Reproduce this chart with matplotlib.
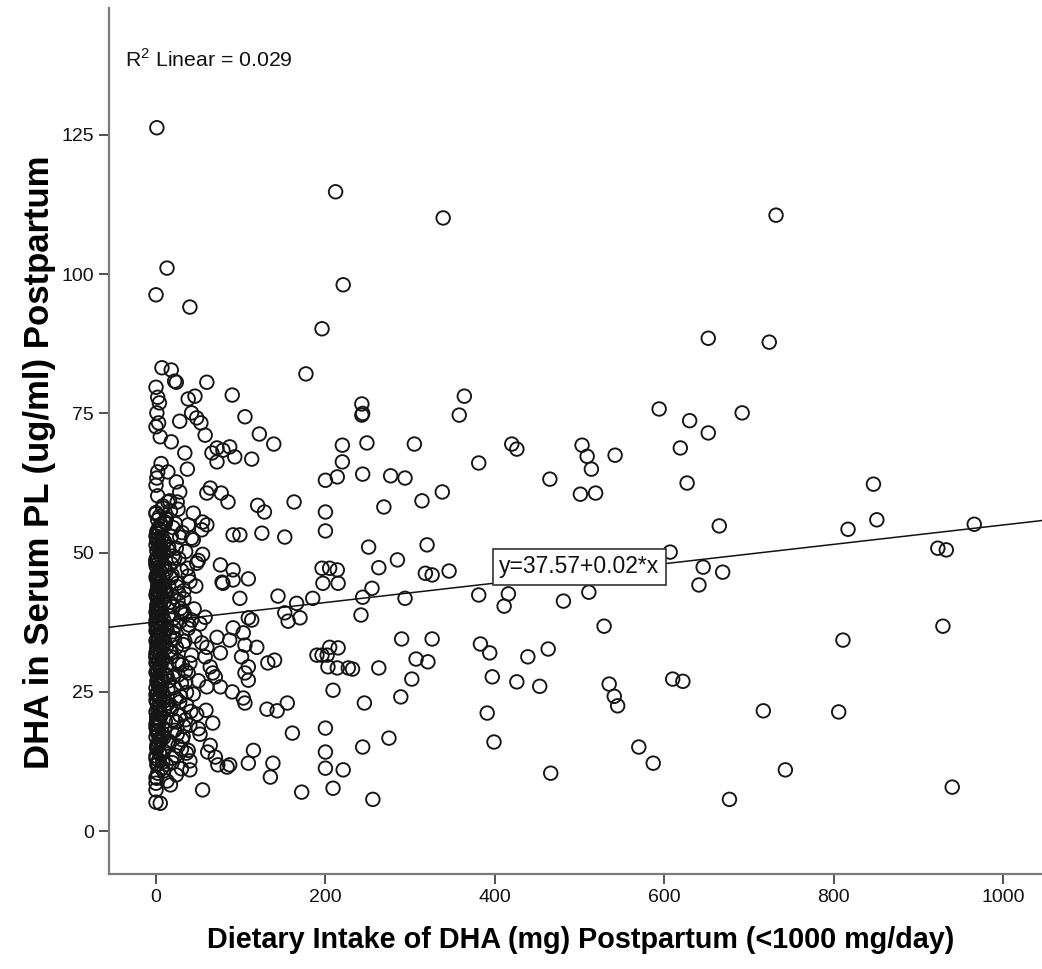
import matplotlib
matplotlib.use("Agg")
import matplotlib.pyplot as plt

plt.rcParams['font.family'] = ['Liberation Sans', 'DejaVu Sans']

# ---- sparse / readable points (Dietary DHA mg, Serum DHA ug/ml) ----
sparse_x = [1, 212, 339, 13, 221, 0, 40, 196, 177, 7,
            18, 22, 24, 60, 38, 46, 90, 42, 48, 28,
            53, 58, 105, 122, 139, 18, 34, 37, 66, 72,
            79, 87, 93, 113, 72, 220, 220, 214, 200, 14,
            24, 28, 64, 60, 77, 85, 14, 25, 44, 120,
            128, 163, 200, 200, 125, 152, 91, 99, 55, 54,
            60, 42, 55, 48, 76, 91, 78, 91, 109, 99,
            144, 166, 185, 196, 205, 214, 197, 215, 152, 156,
            170, 58, 42, 109, 113, 91, 103, 72, 87, 119,
            105, 60, 76, 58, 101, 132, 140, 190, 196, 202,
            64, 109, 67, 105, 40, 38, 60, 76, 90, 103,
            105, 109, 70, 131, 143, 155, 161, 200, 200, 200,
            115, 109, 138, 135, 172, 55, 59, 67, 52, 64,
            61, 70, 73, 84, 87, 38, 40, 17, 0, 5,
            0, 1, 209, 221, 209, 205, 215, 214, 203, 227,
            79]
sparse_y = [126.3, 114.8, 110.1, 101.1, 98.1, 96.3, 94.1, 90.2, 82.1, 83.2,
            82.8, 80.8, 80.6, 80.6, 77.6, 78.1, 78.3, 75.1, 74.2, 73.6,
            73.3, 71.1, 74.4, 71.3, 69.5, 69.9, 67.9, 65.0, 67.9, 66.3,
            68.4, 69.0, 67.2, 66.8, 68.8, 69.3, 66.3, 63.6, 63.0, 64.5,
            62.7, 60.9, 61.6, 60.7, 60.7, 59.1, 59.1, 59.1, 57.1, 58.5,
            57.3, 59.1, 57.3, 53.9, 53.5, 52.8, 53.2, 53.2, 55.5, 54.1,
            55.0, 52.6, 49.7, 48.1, 47.8, 46.9, 44.7, 45.1, 45.3, 41.8,
            42.2, 40.9, 41.8, 47.2, 47.2, 46.9, 44.5, 44.5, 39.2, 37.7,
            38.3, 38.4, 37.9, 38.3, 37.9, 36.5, 35.6, 34.8, 34.3, 33.0,
            33.4, 33.0, 32.0, 31.3, 31.3, 30.2, 30.7, 31.6, 31.6, 31.6,
            29.5, 29.5, 28.4, 28.4, 30.2, 28.4, 25.9, 25.9, 25.0, 23.9,
            23.0, 27.1, 27.7, 21.9, 21.6, 23.0, 17.6, 18.5, 14.2, 11.3,
            14.5, 12.2, 12.2, 9.7, 7.0, 7.4, 21.7, 19.4, 17.4, 15.4,
            14.2, 13.3, 11.9, 11.5, 11.9, 14.5, 11.0, 8.3, 5.2, 5.0,
            7.4, 9.5, 7.7, 11.0, 25.3, 33.0, 32.9, 29.3, 29.5, 29.3,
            44.5]

mid_x = [243, 244, 243, 364, 358, 249, 305, 244, 277, 294,
         269, 314, 338, 381, 420, 426, 465, 503, 509, 514,
         501, 519, 542, 594, 630, 619, 627, 251, 320, 285,
         263, 318, 326, 346, 607, 255, 244, 294, 242, 381,
         416, 411, 481, 511, 529, 232, 263, 290, 326, 307,
         321, 302, 289, 246, 383, 394, 439, 463, 397, 426,
         453, 535, 541, 545, 391, 399, 466, 570, 587, 610,
         622, 275, 244, 256]
mid_y = [76.7, 75.0, 74.7, 78.1, 74.7, 69.7, 69.5, 64.1, 63.8, 63.4,
         58.2, 59.3, 60.9, 66.1, 69.5, 68.6, 63.2, 69.3, 67.3, 65.0,
         60.5, 60.7, 67.5, 75.8, 73.7, 68.8, 62.5, 51.0, 51.4, 48.7,
         47.3, 46.3, 46.0, 46.7, 50.1, 43.6, 42.0, 41.8, 38.8, 42.4,
         42.6, 40.4, 41.3, 42.9, 36.8, 29.1, 29.3, 34.5, 34.5, 30.9,
         30.4, 27.3, 24.1, 23.0, 33.6, 32.0, 31.3, 32.7, 27.7, 26.8,
         26.0, 26.4, 24.2, 22.5, 21.2, 16.0, 10.4, 15.1, 12.2, 27.3,
         26.9, 16.7, 15.1, 5.7]

high_x = [652, 724, 652, 692, 665, 847, 851, 817, 966, 923,
          933, 646, 669, 641, 732, 929, 811, 717, 806, 743,
          677, 940]
high_y = [88.5, 87.8, 71.5, 75.1, 54.8, 62.3, 55.9, 54.2, 55.1, 50.8,
          50.5, 47.4, 46.5, 44.2, 110.6, 36.8, 34.3, 21.6, 21.4, 11.0,
          5.7, 7.9]

# ---- dense column at (near) zero intake ----
col_x = [0, 2, 1, 3, 0, 4, 1, 2, 5, 0,
         3, 1, 0, 2, 4, 1, 6, 0, 2, 3,
         1, 0, 4, 2, 5, 0, 3, 1, 2, 6,
         0, 2, 4, 1, 3, 0, 5, 2, 1, 4,
         2, 0, 3, 5, 1, 2, 0, 4, 3, 1,
         0, 4, 1, 2, 6, 3, 0, 1, 5, 2,
         3, 1, 0, 2, 4, 1, 3, 0, 2, 5,
         1, 3, 0, 4, 2, 0, 1, 3, 6, 2,
         4, 0, 2, 1, 3, 5, 0, 2, 4, 1,
         0, 3, 1, 2, 0, 6, 4, 1, 3, 0,
         2, 5, 3, 0, 1, 4, 2, 0, 3, 1,
         0, 2, 4, 1, 3, 0, 5, 2, 1, 0]
col_y = [8.6, 10.4, 11.9, 12.7, 13.5, 14.1, 14.8, 15.6, 16.2, 16.9,
         17.3, 17.8, 18.6, 19.1, 19.5, 20.3, 20.8, 21.4, 21.9, 22.6,
         23.1, 23.5, 24.2, 24.8, 25.3, 25.7, 26.4, 26.9, 27.2, 27.8,
         28.5, 28.9, 29.6, 30.1, 30.4, 31.2, 31.7, 32.3, 32.6, 33.4,
         33.9, 34.2, 34.9, 35.5, 35.8, 36.6, 37.1, 37.4, 38.2, 38.6,
         39.3, 39.7, 40.1, 40.8, 41.5, 41.9, 42.4, 43.1, 43.6, 44.0,
         44.7, 45.2, 45.6, 46.3, 46.9, 47.3, 48.1, 48.5, 49.2, 49.6,
         50.3, 50.8, 51.4, 51.9, 52.5, 53.0, 53.8, 54.4, 55.1, 55.9,
         56.5, 57.2, 12.1, 15.1, 18.0, 21.1, 24.5, 27.5, 30.7, 33.1,
         36.0, 39.0, 42.0, 45.0, 47.8, 51.0, 54.0, 20.5, 26.1, 31.5,
         35.2, 40.4, 44.4, 48.8, 52.2, 22.2, 29.0, 37.8, 43.3, 46.1,
         79.7, 77.9, 76.9, 75.1, 73.3, 72.6, 70.8, 64.5, 63.4, 62.1]

col2_x = [7, 0, 9, 3, 8, 1, 10, 5, 7, 2,
          11, 4, 8, 0, 9, 6, 12, 3, 7, 1,
          10, 5, 8, 2, 11, 0, 9, 4, 7, 6,
          12, 8, 1, 10, 3, 9, 5, 11, 0, 7,
          2, 10, 6, 8, 4, 12, 1, 9, 3, 11,
          5, 7, 0, 10, 2, 8, 6, 12, 4, 9,
          1, 11, 3, 7, 5, 10, 0, 8, 2, 6,
          9, 4, 12, 1, 10, 3, 8, 6, 11, 0]
col2_y = [11.3, 13.0, 14.4, 16.0, 17.5, 19.8, 21.7, 23.9, 25.0, 26.7,
          28.2, 29.3, 31.0, 32.0, 33.7, 35.0, 36.3, 37.6, 38.9, 40.0,
          41.2, 42.8, 44.2, 45.9, 47.0, 48.3, 49.9, 51.2, 52.8, 54.7,
          56.2, 12.4, 15.4, 18.3, 20.1, 23.3, 26.0, 28.0, 30.2, 32.9,
          34.6, 36.9, 39.6, 41.8, 43.8, 46.6, 49.0, 51.7, 53.4, 55.5,
          13.8, 17.0, 19.2, 22.0, 24.7, 27.0, 29.9, 33.0, 35.9, 38.0,
          40.6, 43.0, 45.3, 47.5, 50.0, 52.0, 57.0, 58.4, 60.2, 66.0,
          10.8, 16.6, 22.9, 28.7, 34.0, 39.9, 45.7, 50.6, 55.3, 9.6]

# ---- semi-dense band of low intakes ----
band_x = [12, 20, 28, 15, 35, 22, 10, 30, 18, 40,
          25, 12, 33, 20, 45, 15, 28, 38, 10, 22,
          32, 16, 42, 26, 12, 35, 20, 30, 14, 44,
          24, 36, 18, 28, 11, 40, 22, 32, 15, 26,
          36, 19, 12, 30, 24, 13, 48, 50, 46, 47,
          8, 16, 26, 38, 44, 50, 9, 52, 8, 54,
          9, 50, 9, 40, 20, 30, 18, 35, 14, 27]
band_y = [56.0, 54.5, 52.8, 51.0, 50.2, 49.0, 47.5, 46.8, 45.5, 44.8,
          43.9, 42.6, 41.7, 40.3, 39.9, 38.7, 37.6, 36.4, 35.5, 34.6,
          33.5, 32.4, 31.6, 30.5, 29.7, 28.8, 27.6, 26.5, 25.4, 24.6,
          23.8, 22.7, 21.9, 20.8, 19.7, 19.0, 18.1, 17.0, 16.2, 15.3,
          14.0, 13.1, 12.0, 11.2, 10.1, 9.0, 21.0, 27.0, 35.0, 44.0,
          58.0, 59.3, 57.8, 55.0, 52.3, 48.6, 43.5, 37.2, 30.8, 33.8,
          24.0, 18.4, 16.8, 12.6, 35.8, 39.2, 48.0, 20.0, 22.9, 42.7]

band2_x = [17, 23, 31, 14, 27, 37, 19, 25, 33, 16,
           29, 21, 39, 13, 34, 24, 18, 31, 26, 15,
           22, 36, 28, 17, 41, 20, 33, 25, 14, 30,
           23, 19, 35, 27, 16, 32, 21, 38, 24, 18,
           15, 26, 21, 34, 18, 29, 24, 13, 31, 20]
band2_y = [57.5, 55.2, 53.6, 50.5, 48.9, 47.2, 46.0, 44.5, 43.2, 41.1,
           40.0, 38.2, 37.0, 36.2, 34.1, 33.0, 31.3, 29.9, 28.0, 27.0,
           25.8, 24.9, 23.2, 22.4, 21.5, 20.0, 18.8, 17.4, 15.8, 14.7,
           13.6, 12.3, 26.8, 30.0, 35.0, 39.5, 42.0, 45.8, 50.8, 52.9,
           44.0, 41.4, 36.6, 38.9, 32.0, 24.2, 19.6, 27.8, 16.4, 49.4]

fit_intercept = 37.57
fit_slope = 0.0174
fit_label = "y=37.57+0.02*x"
r2_label = "R$^2$ Linear = 0.029"

x_ticks = [0, 200, 400, 600, 800, 1000]
y_ticks = [0, 25, 50, 75, 100, 125]

x_all = sparse_x + mid_x + high_x + col_x + col2_x + band_x + band2_x
y_all = sparse_y + mid_y + high_y + col_y + col2_y + band_y + band2_y

plt.rcParams['mathtext.fontset'] = 'custom'
plt.rcParams['mathtext.rm'] = 'Liberation Sans'

fig = plt.figure(figsize=(10.42, 9.69), dpi=100)
ax = fig.add_axes([109/1042, 95/969, (1042-109)/1042, (874-8)/969])

xlim = (-55.5, 1046)
ylim = (-7.7, 147.8)

ax.scatter(x_all, y_all, s=95, facecolors='none', edgecolors='#151515',
           linewidths=1.35, zorder=3)

ax.plot(list(xlim), [fit_intercept + fit_slope * xlim[0],
                     fit_intercept + fit_slope * xlim[1]],
        color='#111111', lw=1.1, zorder=4)

ax.text(500, 47.5, fit_label, fontsize=16.5, ha='center', va='center',
        color='#111111', zorder=5,
        bbox=dict(boxstyle='square,pad=0.28', facecolor='white',
                  edgecolor='#333333', linewidth=1.2))

ax.set_xlim(*xlim)
ax.set_ylim(*ylim)
ax.set_xticks(x_ticks)
ax.set_yticks(y_ticks)
ax.tick_params(direction='out', length=7, width=1.2, color='#333333',
               labelsize=14, labelcolor='#111111', pad=4)

for side in ['top', 'right']:
    ax.spines[side].set_visible(False)
for side in ['left', 'bottom']:
    ax.spines[side].set_color('#7a7a7a')
    ax.spines[side].set_linewidth(1.6)

fig.text(125/1042, 1 - 67/969, r2_label, fontsize=15.3, ha='left',
         va='baseline', color='#111111')

fig.text(581/1042, 1 - 940/969, 'Dietary Intake of DHA (mg) Postpartum (<1000 mg/day)',
         fontsize=20.7, fontweight='bold', ha='center', va='center')
fig.text(40/1042, 1 - 462/969, 'DHA in Serum PL (ug/ml) Postpartum',
         fontsize=25, fontweight='bold', ha='center', va='center',
         rotation=90)

fig.savefig('out.png', dpi=100, facecolor='white')
